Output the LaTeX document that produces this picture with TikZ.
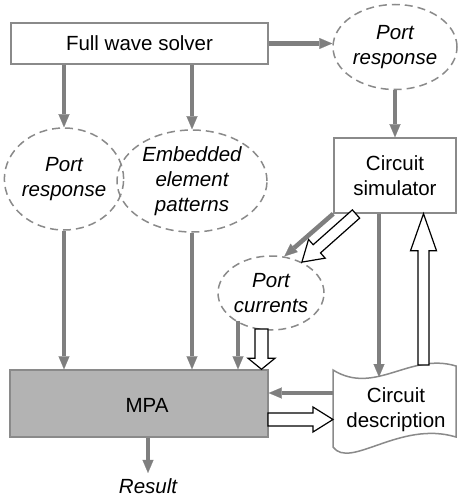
\documentclass[tikz,border=0pt]{standalone}
\usepackage{fontspec}
\setmainfont{Liberation Sans}
\usetikzlibrary{shapes.geometric,arrows.meta,calc}
\definecolor{lg}{HTML}{8A8A8A}
\definecolor{ag}{HTML}{7F7F7F}
\definecolor{mpafill}{HTML}{B3B3B3}
\newcommand{\hollowarr}[5]{%
  \coordinate (hb) at ($(#2)!#5!(#1)$);
  \draw[hollow] ($(#1)!#3!90:(#2)$) -- ($(hb)!#3!90:(#2)$) -- ($(hb)!#4!90:(#2)$) -- (#2)
    -- ($(hb)!#4!-90:(#2)$) -- ($(hb)!#3!-90:(#2)$) -- ($(#1)!#3!-90:(#2)$) -- cycle;
}
\tikzset{
  txt/.style={font=\fontsize{20.5}{25}\selectfont, align=center, inner sep=0pt},
  boxnode/.style={txt, draw=lg, line width=1.5pt, fill=white},
  dashell/.style={txt, ellipse, draw=lg, line width=1.5pt, dash pattern=on 8pt off 5pt, font=\fontsize{20.5}{25}\selectfont\itshape},
  garrow/.style={draw=ag, line width=4.5pt, -{Triangle[length=13pt,width=11pt,line width=0.1pt]}},
  hollow/.style={draw=black, line width=1.2pt, fill=white, line join=miter},
}
\begin{document}
\begin{tikzpicture}[x=1pt,y=-1pt]
\useasboundingbox (0,0) rectangle (457,497);
% nodes
\node[boxnode, minimum width=257pt, minimum height=41pt] (fws) at (139.5,43.5) {Full wave solver};
\node[dashell, minimum width=124pt, minimum height=85pt] (pr1) at (395,47) {Port\\response};
\node[boxnode, minimum width=122pt, minimum height=75pt] (sim) at (395,175.5) {Circuit\\simulator};
\node[dashell, minimum width=108pt, minimum height=102pt] (pr2) at (64,179) {Port\\response};
\node[dashell, minimum width=150pt, minimum height=102pt] (eep) at (192,181) {Embedded\\element\\patterns};
\node[dashell, minimum width=106pt, minimum height=74pt] (pc) at (271,293) {Port\\currents};
\node[boxnode, fill=mpafill, minimum width=258pt, minimum height=67pt] (mpa) at (139,403.5) {};
\node[txt] (mpalabel) at (147,405) {MPA};
% circuit description shape
\draw[draw=lg, line width=1.5pt, fill=white] (333,370) .. controls (375,396) and (410,352) .. (456,366)
  -- (456,437) .. controls (400,420) and (350,470) .. (333,447) -- cycle;
\node[txt] (cd) at (396,410) {Circuit\\description};
\node[txt, anchor=base, font=\fontsize{20.5}{25}\selectfont\itshape] (res) at (148,493) {Result};
% coordinates
\coordinate (cdt) at (379,377);
\coordinate (cdl1) at (333,393);
\coordinate (pcg) at (238,321);
\coordinate (h1s) at (356,214);
\coordinate (h2s) at (261.5,329);
\coordinate (h2e) at (h2s |- mpa.north);
\coordinate (h3s) at (423.5,365);
\coordinate (h3e) at (h3s |- sim.south);
\coordinate (h4s) at (268,419.5);
\coordinate (h4e) at (333,419.5);
% gray arrows
\draw[garrow] (fws.east) -- (fws.east -| pr1.west);
\draw[garrow] (pr1.south) -- (sim.north);
\draw[garrow] (fws.south -| pr2.north) -- (pr2.north);
\draw[garrow] (fws.south -| eep.north) -- (eep.north);
\draw[garrow] (pr2.south) -- (pr2.south |- mpa.north);
\draw[garrow] (eep.south) -- (eep.south |- mpa.north);
\draw[garrow] (pcg) -- (pcg |- mpa.north);
\draw[garrow] (sim.south west) -- (pc.70);
\draw[garrow] (sim.south -| cdt) -- (cdt);
\draw[garrow] (cdl1) -- (cdl1 -| mpa.east);
\draw[garrow, shorten >=5pt] (mpa.south -| res.north) -- (res.north);
% hollow arrows
\hollowarr{h1s}{pc.45}{5.5pt}{12.5pt}{20pt}
\hollowarr{h2s}{h2e}{6.5pt}{13.5pt}{11pt}
\hollowarr{h3s}{h3e}{5.5pt}{13pt}{37pt}
\hollowarr{h4s}{h4e}{6.5pt}{12.5pt}{20pt}
\end{tikzpicture}
\end{document}
